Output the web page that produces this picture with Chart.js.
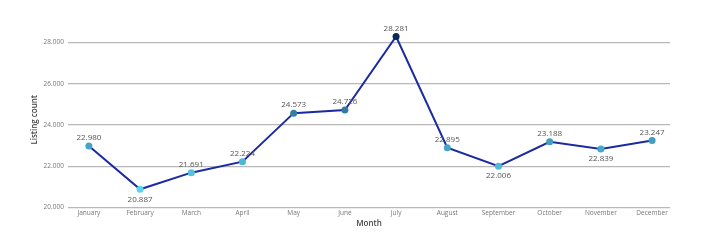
<!DOCTYPE html>
<html>
<head>
<meta charset="utf-8">
<script src="https://cdn.jsdelivr.net/npm/chart.js@4.4.1/dist/chart.umd.min.js"></script>
<style>
  html, body { margin: 0; padding: 0; background: #fff; }
  #wrap { width: 709px; height: 252px; }
</style>
</head>
<body>
<div id="wrap"><canvas id="graficoListings" width="709" height="252"></canvas></div>
<script>
const meses = ["January", "February", "March", "April", "May", "June", "July", "August", "September", "October", "November", "December"];
const listings = [22980, 20887, 21691, 22224, 24573, 24726, 28281, 22895, 22006, 23188, 22839, 23247];
const yTicks = [20000, 22000, 24000, 26000, 28000];

const corLinha = "#1a2aa0";
const corClara = [92, 212, 240];
const corEscura = [12, 40, 88];

function formatar(n) {
  return String(Math.round(n)).replace(/\B(?=(\d{3})+(?!\d))/g, ".");
}

// cor do ponto conforme o valor (claro = menor, escuro = maior)
function corPonto(v) {
  const min = Math.min(...listings), max = Math.max(...listings);
  const t = (v - min) / (max - min);
  const c = corClara.map((a, i) => Math.round(a + (corEscura[i] - a) * t));
  return `rgb(${c[0]},${c[1]},${c[2]})`;
}

const rotulosPlugin = {
  id: "rotulos",
  afterDatasetsDraw(chart) {
    const { ctx } = chart;
    const meta = chart.getDatasetMeta(0);
    ctx.save();
    ctx.font = "8px 'Open Sans', sans-serif";
    ctx.fillStyle = "#555";
    ctx.textAlign = "center";
    meta.data.forEach((pt, i) => {
      const v = listings[i];
      const ant = i > 0 ? listings[i - 1] : Infinity;
      const prox = i < listings.length - 1 ? listings[i + 1] : Infinity;
      const abaixo = v < ant && v < prox;
      if (abaixo) {
        ctx.textBaseline = "top";
        ctx.fillText(formatar(v), pt.x, pt.y + 6);
      } else {
        ctx.textBaseline = "bottom";
        ctx.fillText(formatar(v), pt.x, pt.y - 4);
      }
    });
    ctx.restore();
  },
};

const ctx = document.getElementById("graficoListings").getContext("2d");
new Chart(ctx, {
  type: "line",
  data: {
    datasets: [
      {
        data: listings.map((v, i) => ({ x: i, y: v })),
        borderColor: corLinha,
        borderWidth: 2,
        tension: 0,
        pointRadius: 3.5,
        pointHoverRadius: 3.5,
        pointBorderWidth: 0,
        pointBackgroundColor: listings.map(corPonto),
      },
    ],
  },
  plugins: [rotulosPlugin],
  options: {
    responsive: false,
    animation: false,
    layout: { padding: { left: 30, right: 39, top: 32, bottom: 23 } },
    plugins: { legend: { display: false }, tooltip: { enabled: false } },
    scales: {
      x: {
        type: "linear",
        min: -0.41,
        max: 11.35,
        afterBuildTicks(axis) {
          axis.ticks = meses.map((m, i) => ({ value: i }));
        },
        ticks: {
          autoSkip: false,
          maxRotation: 0,
          padding: 2,
          color: "#777",
          font: { family: "'Open Sans', sans-serif", size: 6.5 },
          callback: (v) => meses[v],
        },
        grid: { display: false, drawTicks: false },
        border: { display: false },
        title: {
          display: true,
          text: "Month",
          color: "#444",
          padding: { top: 0, bottom: 0 },
          font: { family: "'Open Sans', sans-serif", size: 8, weight: "600" },
        },
      },
      y: {
        min: 20000,
        max: 28500,
        afterBuildTicks(axis) {
          axis.ticks = yTicks.map((v) => ({ value: v }));
        },
        ticks: {
          padding: 4,
          color: "#777",
          font: { family: "'Open Sans', sans-serif", size: 6.5 },
          callback: (v) => formatar(v),
        },
        grid: { color: "#b8b8b8", lineWidth: 1.2, drawTicks: false },
        border: { display: false },
        title: {
          display: true,
          text: "Listing count",
          color: "#444",
          padding: { top: 0, bottom: 0 },
          font: { family: "'Open Sans', sans-serif", size: 8, weight: "600" },
        },
      },
    },
  },
});
</script>
</body>
</html>
